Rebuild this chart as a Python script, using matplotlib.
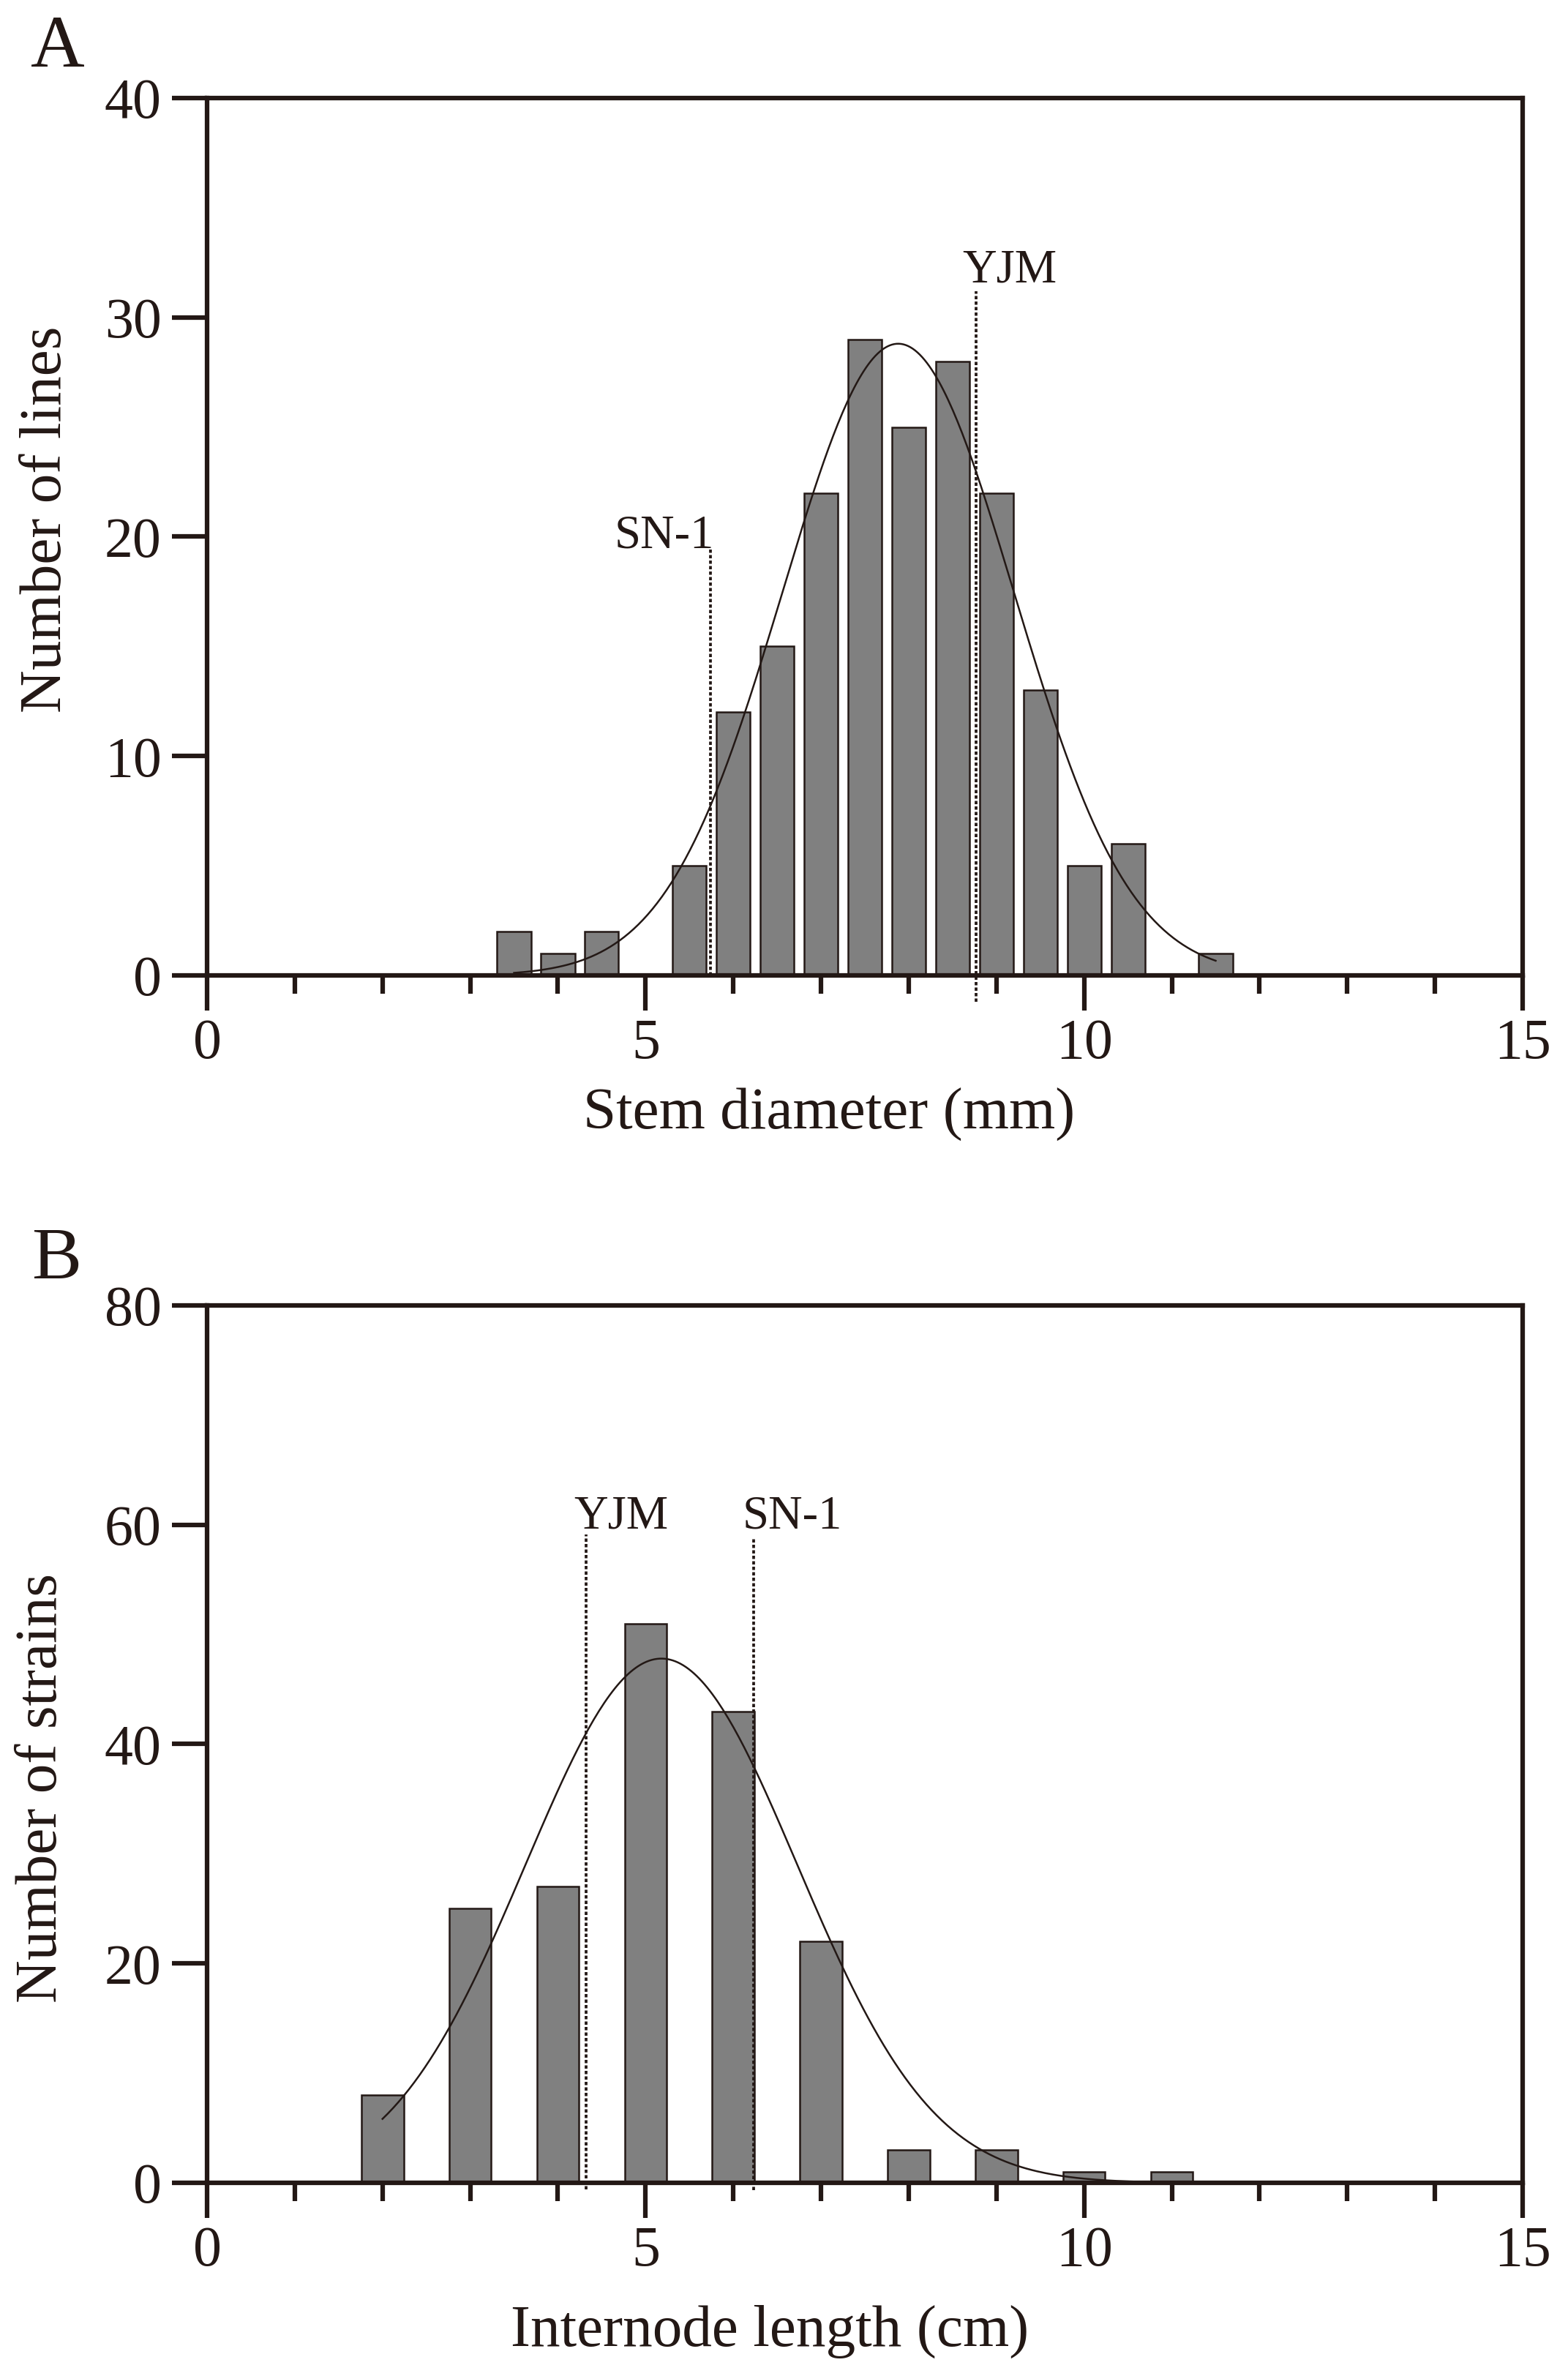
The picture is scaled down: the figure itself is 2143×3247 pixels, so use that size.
import numpy as np
import matplotlib
matplotlib.use("Agg")
import matplotlib.pyplot as plt
from matplotlib.ticker import MultipleLocator

plt.rcParams["font.family"] = ["Liberation Serif", "DejaVu Serif"]

INK = "#231815"
BAR = "#808080"

# Panel A: stem diameter histogram
stem_bins = [3.5, 4.0, 4.5, 5.5, 6.0, 6.5, 7.0, 7.5, 8.0, 8.5, 9.0, 9.5, 10.0, 10.5, 11.5]
stem_counts = [2, 1, 2, 5, 12, 15, 22, 29, 25, 28, 22, 13, 5, 6, 1]
stem_fit = {"mean": 7.88, "sd": 1.32, "peak": 28.8, "start": 3.5, "end": 11.5}
stem_marks = {"SN-1": 5.74, "YJM": 8.77}

# Panel B: internode length histogram
node_bins = [2, 3, 4, 5, 6, 7, 8, 9, 10, 11]
node_counts = [8, 25, 27, 51, 43, 22, 3, 3, 1, 1]
node_fit = {"mean": 5.18, "sd": 1.55, "peak": 47.8, "start": 2.0, "end": 11.0}
node_marks = {"YJM": 4.32, "SN-1": 6.23}


def gauss_curve(fit):
    x = np.linspace(fit["start"], fit["end"], 300)
    y = fit["peak"] * np.exp(-((x - fit["mean"]) ** 2) / (2 * fit["sd"] ** 2))
    return x, y


def style_axes(ax, ymax, ystep):
    ax.set_xlim(0, 15)
    ax.set_ylim(0, ymax)
    ax.xaxis.set_major_locator(MultipleLocator(5))
    ax.xaxis.set_minor_locator(MultipleLocator(1))
    ax.yaxis.set_major_locator(MultipleLocator(ystep))
    for sp in ax.spines.values():
        sp.set_linewidth(1.5)
        sp.set_color(INK)
    ax.tick_params(which="major", direction="out", length=11.5, width=1.5,
                   color=INK, labelcolor=INK, labelsize=18.7)
    ax.tick_params(axis="x", which="major", pad=2.5)
    ax.tick_params(axis="y", which="major", pad=3.5)
    ax.tick_params(axis="x", which="minor", direction="out", length=6, width=1.5, color=INK)


fig = plt.figure(figsize=(2143 / 300, 3247 / 300), dpi=300)

# ---- A ----
ax1 = fig.add_axes([0.13206, 0.58947, 0.83901, 0.36926])
ax1.bar(stem_bins, stem_counts, width=0.385, color=BAR, edgecolor=INK, linewidth=0.6, zorder=2)
cx, cy = gauss_curve(stem_fit)
ax1.plot(cx, cy, color=INK, lw=0.6, zorder=3)
ax1.vlines(stem_marks["SN-1"], 0, 19.4, colors=INK, linestyles=(0, (1.2, 0.8)), lw=0.9, zorder=4, clip_on=False)
ax1.vlines(stem_marks["YJM"], -1.2, 31.2, colors=INK, linestyles=(0, (1.2, 0.8)), lw=0.9, zorder=4, clip_on=False)
ax1.text(5.78, 19.5, "SN-1", ha="right", va="baseline", fontsize=15.5, color=INK)
ax1.text(8.61, 31.6, "YJM", ha="left", va="baseline", fontsize=15.5, color=INK)
style_axes(ax1, 40, 10)
ax1.set_xlabel("Stem diameter (mm)", fontsize=19.5, color=INK)
ax1.set_ylabel("Number of lines", fontsize=19.5, color=INK)
ax1.xaxis.set_label_coords(0.473, -0.128)
ax1.yaxis.set_label_coords(-0.102, 0.52)
fig.text(42 / 2143, 1 - 91 / 3247, "A", fontsize=24.5, color=INK, ha="left", va="baseline")

# ---- B ----
ax2 = fig.add_axes([0.13206, 0.08131, 0.83901, 0.36926])
ax2.bar(node_bins, node_counts, width=0.48, color=BAR, edgecolor=INK, linewidth=0.6, zorder=2)
cx, cy = gauss_curve(node_fit)
ax2.plot(cx, cy, color=INK, lw=0.6, zorder=3)
ax2.vlines(node_marks["YJM"], -0.6, 59.1, colors=INK, linestyles=(0, (1.2, 0.8)), lw=0.9, zorder=4, clip_on=False)
ax2.vlines(node_marks["SN-1"], -0.7, 58.8, colors=INK, linestyles=(0, (1.2, 0.8)), lw=0.9, zorder=4, clip_on=False)
ax2.text(4.18, 59.7, "YJM", ha="left", va="baseline", fontsize=15.5, color=INK)
ax2.text(6.10, 59.7, "SN-1", ha="left", va="baseline", fontsize=15.5, color=INK)
style_axes(ax2, 80, 20)
ax2.set_xlabel("Internode length (cm)", fontsize=19.5, color=INK)
ax2.set_ylabel("Number of strains", fontsize=19.5, color=INK)
ax2.xaxis.set_label_coords(0.428, -0.139)
ax2.yaxis.set_label_coords(-0.105, 0.45)
fig.text(43 / 2143, 1 - 1748 / 3247, "B", fontsize=24.5, color=INK, ha="left", va="baseline")

fig.savefig("out.png", dpi=300)
